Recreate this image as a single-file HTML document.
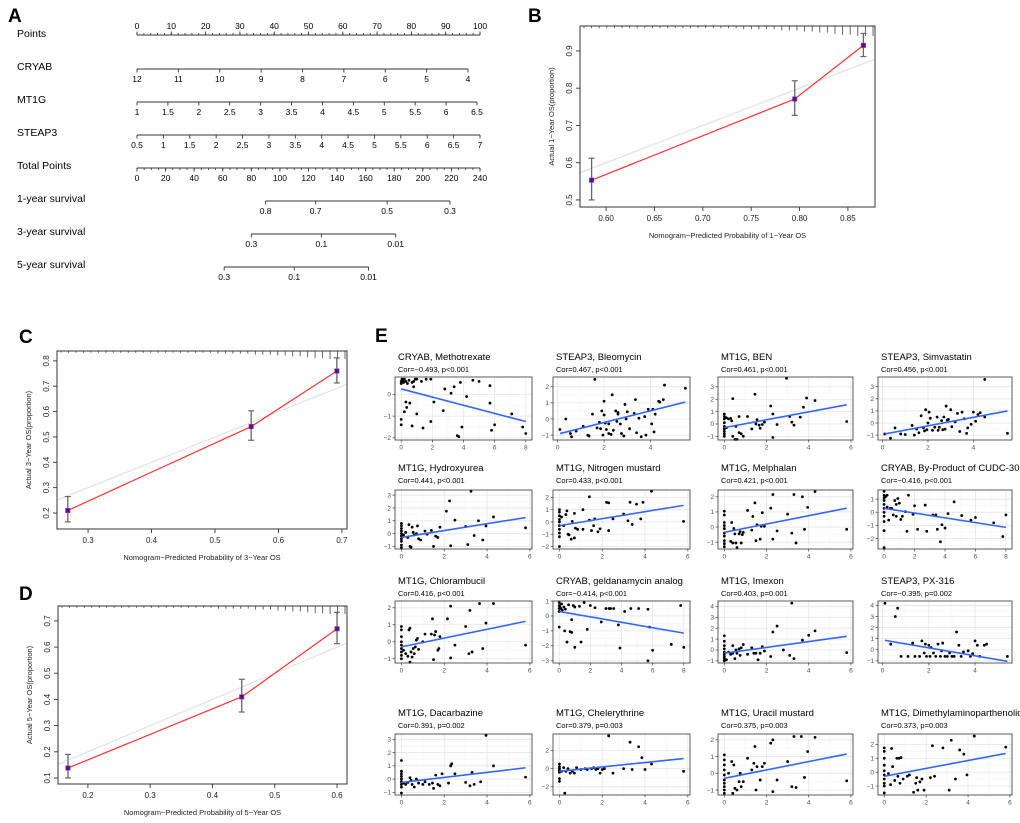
<!DOCTYPE html>
<html><head><meta charset="utf-8">
<style>
html,body{margin:0;padding:0;background:#fff;}
svg{display:block;font-family:"Liberation Sans",Arial,sans-serif;}
</style></head>
<body>
<svg id="fig" width="1020" height="823" viewBox="0 0 1020 823" xmlns="http://www.w3.org/2000/svg">
<g font-weight="bold" font-size="19" fill="#000">
<text x="8" y="22">A</text>
<text x="528" y="22">B</text>
<text x="19" y="343">C</text>
<text x="19" y="600">D</text>
<text x="375" y="342">E</text>
</g>
<g id="nomo"></g>
<g id="calib"></g>
<g id="scat"></g>
</svg>
<script>
// ---------- Nomogram data ----------
const nomoRows = ["Points","CRYAB","MT1G","STEAP3","Total Points","1-year survival","3-year survival","5-year survival"];
const pointsTicks = [0,10,20,30,40,50,60,70,80,90,100];
const cryabTicks = [12,11,10,9,8,7,6,5,4];
const mt1gTicks = [1,1.5,2,2.5,3,3.5,4,4.5,5,5.5,6,6.5];
const steap3Ticks = [0.5,1,1.5,2,2.5,3,3.5,4,4.5,5,5.5,6,6.5,7];
const totalTicks = [0,20,40,60,80,100,120,140,160,180,200,220,240];
const surv1Labels = ["0.8","0.7","0.5","0.3"];
const surv1Total = [90,125,175,219];
const surv3Labels = ["0.3","0.1","0.01"];
const surv3Total = [80,129,181];
const surv5Labels = ["0.3","0.1","0.01"];
const surv5Total = [61,110,162];

// ---------- Calibration data ----------
const calB_pred = [0.585,0.795,0.866];
const calB_obs = [0.553,0.771,0.915];
const calB_lo = [0.500,0.727,0.885];
const calB_hi = [0.612,0.820,0.947];
const calB_xticks = [0.60,0.65,0.70,0.75,0.80,0.85];
const calB_yticks = [0.5,0.6,0.7,0.8,0.9];
const calC_pred = [0.268,0.557,0.692];
const calC_obs = [0.210,0.541,0.760];
const calC_lo = [0.165,0.487,0.713];
const calC_hi = [0.265,0.603,0.812];
const calC_xticks = [0.3,0.4,0.5,0.6,0.7];
const calC_yticks = [0.2,0.3,0.4,0.5,0.6,0.7,0.8];
const calD_pred = [0.168,0.447,0.600];
const calD_obs = [0.138,0.410,0.670];
const calD_lo = [0.100,0.352,0.613];
const calD_hi = [0.190,0.477,0.733];
const calD_xticks = [0.2,0.3,0.4,0.5,0.6];
const calD_yticks = [0.1,0.2,0.3,0.4,0.5,0.6,0.7];
const rugLens = [2,2,2,2,2,2,2,2,2,2,2,2,2,2,2,2,2,2,2,2,2,3,3,3,3,3,4,4,4,5,5,6,6,7,8,8,9,9,9];

// ---------- Scatter data ----------
const scTitles = ["CRYAB, Methotrexate","STEAP3, Bleomycin","MT1G, BEN","STEAP3, Simvastatin","MT1G, Hydroxyurea","MT1G, Nitrogen mustard","MT1G, Melphalan","CRYAB, By-Product of CUDC-305","MT1G, Chlorambucil","CRYAB, geldanamycin analog","MT1G, Imexon","STEAP3, PX-316","MT1G, Dacarbazine","MT1G, Chelerythrine","MT1G, Uracil mustard","MT1G, Dimethylaminoparthenolide"];
const scCors = ["Cor=\u22120.493, p<0.001","Cor=0.467, p<0.001","Cor=0.461, p<0.001","Cor=0.456, p<0.001","Cor=0.441, p<0.001","Cor=0.433, p<0.001","Cor=0.421, p<0.001","Cor=\u22120.416, p<0.001","Cor=0.416, p<0.001","Cor=\u22120.414, p<0.001","Cor=0.403, p=0.001","Cor=\u22120.395, p=0.002","Cor=0.391, p=0.002","Cor=0.379, p=0.003","Cor=0.375, p=0.003","Cor=0.373, p=0.003"];
const scXDomain = [[-0.4,8.4],[-0.2,5.7],[-0.3,6.1],[-0.2,5.7],[-0.3,6.1],[-0.3,6.1],[-0.3,6.1],[-0.4,8.4],[-0.3,6.1],[-0.4,8.4],[-0.3,6.1],[-0.2,5.6],[-0.3,6.1],[-0.3,6.1],[-0.3,6.1],[-0.3,6.1]];
const scYDomain = [[-2.1,0.8],[-1.3,2.6],[-1.3,3.8],[-1.4,3.8],[-1.2,3.4],[-2.2,2.6],[-1.45,2.45],[-2.8,1.7],[-1.25,2.4],[-3.15,1.0],[-1.2,4.5],[-1.2,4.4],[-1.2,3.4],[-2.9,3.8],[-1.3,2.35],[-1.65,2.75]];
const scXTicks = [[0,2,4,6,8],[0,2,4],[0,2,4,6],[0,2,4],[0,2,4,6],[0,2,4,6],[0,2,4,6],[0,2,4,6,8],[0,2,4,6],[0,2,4,6,8],[0,2,4,6],[0,2,4],[0,2,4,6],[0,2,4,6],[0,2,4,6],[0,2,4,6]];
const scYTicks = [[-2,-1,0],[-1,0,1,2],[-1,0,1,2,3],[-1,0,1,2,3],[-1,0,1,2,3],[-2,-1,0,1,2],[-1,0,1,2],[-2,-1,0,1],[-1,0,1,2],[-3,-2,-1,0,1],[-1,0,1,2,3,4],[-1,0,1,2,3,4],[-1,0,1,2,3],[-2,0,2],[-1,0,1,2],[-1,0,1,2]];
const scLineX = [[0,8],[0.1,5.5],[0,5.8],[0.1,5.5],[0,5.8],[0,5.8],[0,5.8],[0,8],[0,5.8],[0,8],[0,5.8],[0.1,5.4],[0,5.8],[0,5.8],[0,5.8],[0,5.8]];
const scLineY = [[0.25,-1.25],[-0.9,1.05],[-0.3,1.55],[-0.9,1.0],[-0.3,1.25],[-0.3,1.35],[-0.35,1.25],[0.3,-1.15],[-0.3,1.2],[0.3,-1.15],[-0.3,1.25],[0.85,-1.05],[-0.25,0.85],[-0.3,1.1],[-0.3,1.15],[-0.3,1.35]];
const scPts = [
[[0,0.6],[0,0.5],[0.05,0.7],[0.1,0.65],[0.15,0.55],[0.2,0.7],[0.3,0.6],[0.4,0.5],[0.5,0.65],[0.7,0.55],[0.8,0.6],[0.9,0.7],[1,0.7],[1.3,0.6],[1.6,0.7],[1.9,0.7],[0.8,0.35],[0,-1.15],[0,-1.4],[0.2,-0.8],[0.3,-0.35],[0.35,-0.6],[0.55,-0.4],[0.7,-1.45],[1,-0.9],[1.4,-1.55],[1.9,-1.25],[2.1,-0.35],[2.7,-0.75],[2.8,0.25],[3.2,0.05],[3.4,0.35],[3.6,-1.9],[3.7,-1.95],[3.8,0.55],[3.9,-1.5],[4.2,-0.1],[4.6,0.65],[5,0.6],[5.7,0.4],[5.7,-0.4],[5.8,-1.65],[6,-1.4],[7.1,-0.9],[7.8,-1.5],[8,-1.8]],
[[0.1,-0.65],[0.35,0],[0.55,-0.9],[0.6,-1.1],[0.8,-0.75],[1.1,-0.45],[1.3,-1],[1.35,-1.05],[1.5,0.3],[1.6,2.45],[1.7,-0.55],[1.8,-0.2],[1.85,-0.6],[1.9,0.5],[1.95,-1],[2,1.1],[2,0.25],[2.05,-0.25],[2.1,-0.65],[2.2,-0.3],[2.2,-0.9],[2.3,-0.95],[2.35,1.5],[2.4,-0.7],[2.5,0.5],[2.55,-0.15],[2.6,0.3],[2.6,0.4],[2.7,-0.3],[2.75,-0.9],[2.85,-1.05],[2.9,0.9],[2.95,0],[3,0.45],[3.1,-0.6],[3.3,0.35],[3.35,1.2],[3.4,-0.85],[3.5,0.05],[3.6,-1.1],[3.75,0.15],[3.8,-1],[3.9,0.6],[4.05,-0.3],[4.1,0.6],[4.15,-0.8],[4.2,0.3],[4.35,1.1],[4.4,1.05],[4.55,1.2],[4.6,2.1],[5.5,1.9]],
[[0,0.8],[0,0.6],[0,0.4],[0,0.1],[0,-0.2],[0,-0.4],[0,-0.6],[0,-0.8],[0,-1],[0.1,-0.3],[0.1,0.5],[0.2,0.4],[0.3,0.45],[0.35,0.25],[0.4,2.05],[0.4,-1],[0.5,-1.25],[0.55,-0.2],[0.6,-1.25],[0.7,-0.7],[0.7,0.6],[0.8,-0.8],[0.9,-1],[1.1,0.6],[1.3,-0.4],[1.45,2.4],[1.5,0],[1.55,0.35],[1.65,-0.1],[1.7,-0.35],[1.8,-0.05],[1.9,0.15],[2.2,1.45],[2.3,0.8],[2.3,-1.1],[2.5,-0.05],[2.95,3.7],[3.1,0.6],[3.2,0.15],[3.3,-0.1],[3.6,0.55],[3.75,1.35],[3.9,2.1],[4.3,1.9],[5.8,0.2]],
[[0.1,-0.9],[0.35,-1.25],[0.55,-0.4],[0.8,-0.9],[1,-0.95],[1.3,-0.2],[1.4,-1],[1.5,-0.5],[1.6,-0.8],[1.7,0.6],[1.8,-0.4],[1.85,-0.65],[1.9,1.1],[1.95,-0.55],[2,0],[2.05,0.9],[2.1,0.4],[2.2,-0.6],[2.3,-0.35],[2.4,0.5],[2.45,-0.6],[2.5,-0.35],[2.6,0.2],[2.65,-0.55],[2.7,0.5],[2.75,-0.5],[2.8,1.4],[2.85,0.25],[2.9,0.3],[3,1.1],[3.05,-0.3],[3.2,0.1],[3.3,0.8],[3.4,-0.7],[3.5,0.9],[3.6,0.35],[3.7,-0.85],[3.75,-0.4],[3.9,-0.1],[4,0.9],[4.1,0.15],[4.2,0.7],[4.3,0.85],[4.5,0.5],[4.5,3.6],[5.5,-0.85]],
[[0,0.8],[0,0.6],[0,0.4],[0,0.2],[0,0],[0,-0.2],[0,-0.4],[0,-0.6],[0,-0.9],[0,-1.1],[0.1,-0.1],[0.2,0.1],[0.3,-0.3],[0.35,0.7],[0.4,-1],[0.45,-1.05],[0.5,0.5],[0.55,0.1],[0.6,-0.1],[0.7,0],[0.75,0.6],[0.8,-0.4],[0.9,-0.5],[1.1,0.2],[1.2,-0.05],[1.4,0.25],[1.5,-1],[1.6,-0.2],[1.7,-0.3],[1.8,0.5],[2.1,1.75],[2.25,2.55],[2.3,-0.95],[2.5,1.05],[3,0.55],[3.1,-0.85],[3.25,3.3],[3.4,-0.15],[3.6,1],[3.8,-0.5],[3.95,0.6],[4.3,1.3],[5.8,0.45]],
[[0,1],[0,0.8],[0,0.5],[0,0.2],[0,0],[0,-0.3],[0,-0.6],[0,-0.9],[0,-1.2],[0,-2],[0.1,0.4],[0.2,-0.3],[0.3,0.6],[0.35,0.9],[0.4,-1],[0.45,-1.05],[0.55,-1.4],[0.6,0.05],[0.7,-1.3],[0.7,0.7],[0.75,-0.5],[0.85,-0.6],[1.1,1],[1.1,-0.6],[1.4,2.05],[1.4,0.15],[1.5,-0.7],[1.6,-0.3],[1.65,0.25],[1.8,-0.8],[1.9,-0.55],[2.2,1.6],[2.3,1.55],[2.3,-0.7],[2.5,0.25],[3,0.65],[3.2,0.1],[3.3,1.6],[3.4,-0.2],[3.6,1.45],[3.8,0.25],[3.9,1.6],[4.3,2.5],[5.8,0.05]],
[[0,1.05],[0,0.8],[0,0.3],[0,0.1],[0,-0.1],[0,-0.4],[0,-0.6],[0,-0.9],[0,-1.1],[0,-1.3],[0.3,-0.95],[0.35,0.3],[0.4,-1.05],[0.45,-0.1],[0.5,-0.45],[0.55,-1.05],[0.6,-1.35],[0.7,-0.45],[0.75,-0.3],[0.8,-1.05],[0.85,-0.5],[0.9,-0.35],[1.1,1.1],[1.3,-0.2],[1.35,0.7],[1.45,1.6],[1.5,-0.9],[1.55,0.15],[1.7,-0.8],[1.75,0.05],[1.8,0.95],[1.9,0.05],[2.2,1.25],[2.3,2.15],[2.3,-0.8],[2.5,-0.25],[3,0.85],[3.2,-0.4],[3.3,2.15],[3.4,-1.05],[3.7,2],[3.8,-0.15],[3.95,1.3],[4.3,2.35],[5.8,-0.15]],
[[0,1.6],[0,1.3],[0,1.1],[0,0.9],[0,0.6],[0,0.3],[0,0],[0,-0.3],[0,-0.7],[0,-1.4],[0,-2.7],[0.1,1.2],[0.2,1.3],[0.2,0.4],[0.3,-0.6],[0.4,0.3],[0.5,0.3],[0.6,-0.2],[0.7,0.9],[0.8,0.6],[0.8,-0.3],[0.9,1.05],[1,0.7],[1.1,-0.55],[1.2,-0.3],[1.4,0.05],[1.5,-1.45],[1.6,1.3],[1.9,-0.15],[2,0.5],[2.2,-1.3],[2.7,0.55],[2.8,-1.45],[3.2,-0.2],[3.4,-0.2],[3.5,-1.3],[3.7,-2.25],[3.8,-0.95],[4,-1.2],[4.2,-0.1],[4.6,0.8],[5.1,-0.25],[5.7,-0.6],[6,-0.4],[7.2,-0.8],[7.8,-1.85],[8,-0.2]],
[[0,0.9],[0,0.7],[0,0.3],[0,0],[0,-0.2],[0,-0.4],[0,-0.6],[0,-0.8],[0,-1],[0.1,-0.5],[0.2,-0.7],[0.3,-0.85],[0.35,0.7],[0.4,-1.2],[0.4,0.8],[0.45,-0.6],[0.5,-0.9],[0.55,-0.4],[0.6,-0.7],[0.65,-0.3],[0.7,0.1],[0.75,0.2],[0.8,-0.45],[1,0],[1.1,0.45],[1.4,0.45],[1.45,1.35],[1.5,-1.05],[1.55,0.4],[1.6,0.6],[1.7,-0.5],[1.75,-0.4],[1.8,0.3],[2.15,1.35],[2.3,2.1],[2.3,-0.95],[2.5,-0.2],[3,0.9],[3.15,-0.7],[3.2,1.85],[3.3,-0.6],[3.65,2.25],[3.8,-0.4],[3.95,1.1],[4.3,2.25],[5.8,-0.2]],
[[0,0.9],[0,0.7],[0,0.5],[0,0.3],[0.05,0.6],[0.1,0.5],[0.15,0.8],[0.2,0.4],[0.3,0.6],[0.35,-1],[0.4,0.45],[0,-0.75],[0.5,-1.75],[0.6,0.75],[0.7,-1.05],[0.8,-1.1],[0.8,-0.25],[0.9,0.7],[1,0.6],[1,-2.1],[1.3,0.65],[1.4,-1.75],[1.6,0.9],[1.8,-0.9],[2,0.7],[2.3,0.55],[2.7,-0.4],[3,0.5],[3.2,0.5],[3.3,0.5],[3.5,0.5],[3.8,-0.6],[3.9,-2.15],[4.2,0.3],[4.6,0.5],[5.1,0.5],[5.7,0.45],[5.7,-3],[5.8,-0.75],[6,-2.3],[7.2,-1.9],[7.8,0.7],[8,-2.1]],
[[0,1.3],[0,0.8],[0,0.4],[0,0.1],[0,-0.2],[0,-0.4],[0,-0.6],[0,-0.8],[0,-1],[0.1,-0.9],[0.2,-0.2],[0.3,-0.4],[0.4,-0.3],[0.4,0.4],[0.5,-0.8],[0.55,0],[0.6,-0.3],[0.7,0.1],[0.75,-0.5],[0.8,0.2],[0.9,0.5],[1.1,-0.4],[1.3,0.2],[1.4,-0.3],[1.5,-0.3],[1.6,-0.9],[1.7,-0.3],[1.8,0.3],[1.9,-0.1],[2.2,-0.6],[2.3,1.65],[2.5,2.2],[2.8,0],[3.1,-0.5],[3.2,4.3],[3.3,-0.8],[3.7,0.9],[4,1.35],[4.3,1.75],[5.8,-0.25]],
[[0.1,4.2],[0.35,0.5],[0.55,3],[0.65,3.75],[0.8,-0.6],[1.1,-0.6],[1.3,0.6],[1.4,-0.6],[1.6,-0.6],[1.7,0.8],[1.8,-0.3],[1.85,0.5],[1.9,-0.6],[2,0.4],[2.05,-0.6],[2.1,0.2],[2.2,-0.3],[2.3,-0.6],[2.4,0.5],[2.5,-0.6],[2.55,-0.1],[2.6,0.6],[2.7,-0.6],[2.8,-0.6],[2.9,-0.3],[3,-0.6],[3.1,-0.6],[3.2,1.6],[3.3,0.4],[3.4,-0.6],[3.5,-0.2],[3.7,-0.1],[3.8,-0.6],[3.9,-0.35],[4,0.8],[4.1,0.4],[4.2,-0.6],[4.4,0.4],[4.5,0.5],[5.4,-0.6]],
[[0,1.4],[0,0.6],[0,0.4],[0,0.2],[0,0],[0,-0.2],[0,-0.4],[0,-0.6],[0,-1.05],[0.1,-0.3],[0.2,-0.4],[0.3,-0.25],[0.4,0.1],[0.45,-0.1],[0.5,-0.4],[0.6,-0.6],[0.7,0],[0.8,-0.3],[1,-0.4],[1.1,-0.2],[1.3,-0.4],[1.45,-0.3],[1.5,-0.7],[1.6,0.3],[1.7,-0.4],[1.8,-0.5],[1.9,0.4],[2.2,-0.3],[2.3,1],[2.35,1.15],[2.5,0.4],[3,-0.25],[3.2,-0.5],[3.3,0.5],[3.4,-0.4],[3.7,-0.2],[3.95,3.3],[4.3,1],[5.8,0.15]],
[[0,0.5],[0,0.2],[0,0],[0,-0.2],[0,-0.4],[0,-1.1],[0,-1.4],[0.1,-0.3],[0.2,0.1],[0.25,-2.7],[0.3,-0.3],[0.4,0],[0.5,-0.5],[0.6,-0.3],[0.7,-0.5],[0.8,0.1],[1,-0.1],[1.2,0],[1.3,-0.1],[1.5,0],[1.6,0.1],[1.7,-0.1],[1.8,0],[1.9,-0.5],[2,-0.1],[2.1,0],[2.3,3.6],[2.5,-0.5],[3,0],[3.3,2.9],[3.4,-0.1],[3.7,2.4],[3.85,1.2],[4,-0.1],[4.3,0.5],[5.8,-0.3]],
[[0,1.1],[0,0.8],[0,0.5],[0,0.2],[0,-0.1],[0,-0.4],[0,-0.6],[0,-0.8],[0,-1],[0,-1.2],[0.2,0],[0.35,0.7],[0.4,-1.2],[0.45,0.5],[0.5,-0.9],[0.6,-1],[0.7,-0.5],[0.75,0],[0.8,-0.8],[0.9,-0.5],[1.1,0.9],[1.3,0.2],[1.4,0.6],[1.45,1.6],[1.5,-1],[1.55,0.4],[1.7,-0.4],[1.8,0.4],[1.9,0.6],[2.2,1.8],[2.3,2],[2.3,-1.1],[2.5,-0.4],[3,0.7],[3.2,-0.8],[3.3,2.2],[3.4,-0.85],[3.65,2.2],[3.8,-0.25],[3.95,1.3],[4.3,2.15],[5.8,-0.45]],
[[0,1.75],[0,1.5],[0,1],[0,0.5],[0,0.1],[0,-0.2],[0,-0.5],[0,-0.8],[0,-1],[0,-1.5],[0.2,-0.1],[0.3,-0.9],[0.35,1.7],[0.4,0.4],[0.5,-0.6],[0.6,1],[0.65,-0.3],[0.7,1],[0.75,-0.8],[0.8,1.05],[0.9,-0.5],[1.1,-0.3],[1.2,-0.2],[1.4,-1.45],[1.5,-0.8],[1.55,-0.4],[1.6,-1.3],[1.7,-0.7],[1.8,-0.5],[1.9,-1.3],[2.2,-0.4],[2.3,1.9],[2.4,-0.3],[2.8,1.75],[3.1,-1.3],[3.2,2.3],[3.4,-0.5],[3.6,1.6],[3.8,1.3],[3.95,-0.2],[4.3,2.6],[5.8,1.8]]
];

const NS = "http://www.w3.org/2000/svg";
function mk(parent, tag, attrs, text){
  const e = document.createElementNS(NS, tag);
  for (const k in attrs) e.setAttribute(k, attrs[k]);
  if (text !== undefined) e.textContent = text;
  parent.appendChild(e);
  return e;
}
function lin(d0,d1,r0,r1){ return v => r0 + (v-d0)/(d1-d0)*(r1-r0); }

// ---------- Nomogram ----------
(function(){
  const g = document.getElementById('nomo');
  const L = 137, R = 480;
  const rowY = [35,69,102,135,168,201,234,267];
  nomoRows.forEach((r,i)=>{
    const t = mk(g,'text',{x:17,y:rowY[i]+ (i===0?2:1),'font-size':10.5,fill:'#000'},r);
    
    
  });
  function axis(y, vals, labels, scale, above, minorVals){
    const xs = vals.map(scale);
    const ln = mk(g,'line',{x1:Math.min(...xs),x2:Math.max(...xs),y1:y,y2:y,stroke:'#333','stroke-width':1});
    
    
    if (minorVals) minorVals.forEach(v=>{
      const x = scale(v);
      mk(g,'line',{x1:x,x2:x,y1:y,y2:above?y-2:y+2,stroke:'#333','stroke-width':0.8});
    });
    vals.forEach((v,i)=>{
      const x = scale(v);
      mk(g,'line',{x1:x,x2:x,y1:y,y2:above?y-3.5:y+3.5,stroke:'#333','stroke-width':0.9});
      const t = mk(g,'text',{x:x,y:above?y-6:y+13,'font-size':8.5,'text-anchor':'middle',fill:'#000'},labels[i]);
      
      
    });
  }
  const pts = lin(0,100,L,R);
  const pMinor = []; for (let v=0; v<=100; v+=2) pMinor.push(v);
  axis(rowY[0], pointsTicks, pointsTicks.map(String), pts, true, pMinor);
  axis(rowY[1], cryabTicks, cryabTicks.map(String), lin(12,4,L,468), false);
  axis(rowY[2], mt1gTicks, mt1gTicks.map(String), lin(1,6.5,L,477), false);
  axis(rowY[3], steap3Ticks, steap3Ticks.map(String), lin(0.5,7,L,R), false);
  const tot = lin(0,240,L,R);
  const tMinor = []; for (let v=0; v<=240; v+=5) tMinor.push(v);
  axis(rowY[4], totalTicks, totalTicks.map(String), tot, false, tMinor);
  axis(rowY[5], surv1Total, surv1Labels, tot, false);
  axis(rowY[6], surv3Total, surv3Labels, tot, false);
  axis(rowY[7], surv5Total, surv5Labels, tot, false);
})();

// ---------- Calibration plots ----------
function calPlot(cfg){
  const g = mk(document.getElementById('calib'),'g',{});
  
  
  const sx = lin(cfg.xd[0],cfg.xd[1],cfg.box[0],cfg.box[2]);
  const sy = lin(cfg.yd[0],cfg.yd[1],cfg.box[3],cfg.box[1]);
  const [x0,y0,x1,y1] = cfg.box;
  // ideal line
  const lo = Math.max(cfg.xd[0],cfg.yd[0]), hi = Math.min(cfg.xd[1],cfg.yd[1]);
  mk(g,'line',{x1:sx(lo),y1:sy(lo),x2:sx(hi),y2:sy(hi),stroke:'#dcdcdc','stroke-width':1});
  // rug
  const n = rugLens.length;
  rugLens.forEach((len,i)=>{
    const x = x0 + 4 + i*(x1-x0-6)/(n-1);
    mk(g,'line',{x1:x,x2:x,y1:y0,y2:y0+len*cfg.rugK,stroke:'#555','stroke-width':0.9});
  });
  // red line
  const pl = cfg.pred.map((p,i)=>sx(p)+','+sy(cfg.obs[i])).join(' ');
  const poly = mk(g,'polyline',{points:pl,fill:'none',stroke:'#ff3333','stroke-width':1.2});
  
  
  cfg.pred.forEach((p,i)=>{
    const x = sx(p);
    mk(g,'line',{x1:x,x2:x,y1:sy(cfg.lo[i]),y2:sy(cfg.hi[i]),stroke:'#666','stroke-width':1.3});
    mk(g,'line',{x1:x-3,x2:x+3,y1:sy(cfg.lo[i]),y2:sy(cfg.lo[i]),stroke:'#666','stroke-width':1.2});
    mk(g,'line',{x1:x-3,x2:x+3,y1:sy(cfg.hi[i]),y2:sy(cfg.hi[i]),stroke:'#666','stroke-width':1.2});
    const pt = mk(g,'rect',{x:x-2.2,y:sy(cfg.obs[i])-2.2,width:4.4,height:4.4,fill:'#3a1ea0',stroke:'#c0208a','stroke-width':0.6});
    
    
  });
  mk(g,'rect',{x:x0,y:y0,width:x1-x0,height:y1-y0,fill:'none',stroke:'#333','stroke-width':1});
  cfg.xt.forEach(v=>{
    const x = sx(v);
    mk(g,'line',{x1:x,x2:x,y1:y1,y2:y1+4,stroke:'#333','stroke-width':0.9});
    mk(g,'text',{x:x,y:y1+14,'font-size':8,'text-anchor':'middle',fill:'#222'},v.toFixed(cfg.xdec));
  });
  cfg.yt.forEach(v=>{
    const y = sy(v);
    mk(g,'line',{x1:x0,x2:x0-4,y1:y,y2:y,stroke:'#333','stroke-width':0.9});
    mk(g,'text',{x:x0-8,y:y,'font-size':8,'text-anchor':'middle',fill:'#222',transform:`rotate(-90 ${x0-8} ${y})`},v.toFixed(1));
  });
  const xl = mk(g,'text',{x:(x0+x1)/2,y:y1+31,'font-size':7.5,'text-anchor':'middle',fill:'#222'},cfg.xlab);
  
  
  const yx = x0-26, yy=(y0+y1)/2;
  const yl = mk(g,'text',{x:yx,y:yy,'font-size':7.5,'text-anchor':'middle',fill:'#222',transform:`rotate(-90 ${yx} ${yy})`},cfg.ylab);
  
  
}
calPlot({name:'calibration-1-year',box:[580,26,875,207],xd:[0.573,0.878],yd:[0.481,0.967],pred:calB_pred,obs:calB_obs,lo:calB_lo,hi:calB_hi,xt:calB_xticks,yt:calB_yticks,xdec:2,rugK:1.1,xlab:'Nomogram\u2212Predicted Probability of 1\u2212Year OS',ylab:'Actual 1\u2212Year OS(proportion)'});
calPlot({name:'calibration-3-year',box:[57,351,347,529],xd:[0.251,0.708],yd:[0.137,0.839],pred:calC_pred,obs:calC_obs,lo:calC_lo,hi:calC_hi,xt:calC_xticks,yt:calC_yticks,xdec:1,rugK:0.9,xlab:'Nomogram\u2212Predicted Probability of 3\u2212Year OS',ylab:'Actual 3\u2212Year OS(proportion)'});
calPlot({name:'calibration-5-year',box:[58,606,347,784],xd:[0.152,0.616],yd:[0.077,0.757],pred:calD_pred,obs:calD_obs,lo:calD_lo,hi:calD_hi,xt:calD_xticks,yt:calD_yticks,xdec:1,rugK:0.9,xlab:'Nomogram\u2212Predicted Probability of 5\u2212Year OS',ylab:'Actual 5\u2212Year OS(proportion)'});

// ---------- Scatter grid ----------
(function(){
  const root = document.getElementById('scat');
  const colX = [[395,532],[553,690],[718,853],[878,1012]];
  const rowY = [[357,377,440],[468,490,549],[581,601,663],[713,734,795]];
  scTitles.forEach((title,k)=>{
    const c = k%4, r = Math.floor(k/4);
    const [bx0,bx1] = colX[c];
    const [ty,by0,by1] = rowY[r];
    const g = mk(root,'g',{});
    
    
    const sx = lin(scXDomain[k][0],scXDomain[k][1],bx0,bx1);
    const sy = lin(scYDomain[k][0],scYDomain[k][1],by1,by0);
    mk(g,'rect',{x:bx0,y:by0,width:bx1-bx0,height:by1-by0,fill:'#fff'});
    const xt = scXTicks[k], yt = scYTicks[k];
    // minor grid
    for (let i=0;i<xt.length-1;i++){ const x=sx((xt[i]+xt[i+1])/2); mk(g,'line',{x1:x,x2:x,y1:by0,y2:by1,stroke:'#f4f4f4','stroke-width':0.6}); }
    for (let i=0;i<yt.length-1;i++){ const y=sy((yt[i]+yt[i+1])/2); mk(g,'line',{x1:bx0,x2:bx1,y1:y,y2:y,stroke:'#f4f4f4','stroke-width':0.6}); }
    xt.forEach(v=>{
      const x = sx(v);
      mk(g,'line',{x1:x,x2:x,y1:by0,y2:by1,stroke:'#e6e6e6','stroke-width':0.8});
      mk(g,'line',{x1:x,x2:x,y1:by1,y2:by1+2.5,stroke:'#444','stroke-width':0.7});
      mk(g,'text',{x:x,y:by1+9.5,'font-size':6.5,'text-anchor':'middle',fill:'#4d4d4d'},v);
    });
    yt.forEach(v=>{
      const y = sy(v);
      mk(g,'line',{x1:bx0,x2:bx1,y1:y,y2:y,stroke:'#e6e6e6','stroke-width':0.8});
      mk(g,'line',{x1:bx0-2.5,x2:bx0,y1:y,y2:y,stroke:'#444','stroke-width':0.7});
      mk(g,'text',{x:bx0-4,y:y+2.3,'font-size':6.5,'text-anchor':'end',fill:'#4d4d4d'},v<0?'\u2212'+(-v):v);
    });
    scPts[k].forEach(p=>{
      const d = mk(g,'circle',{cx:sx(p[0]),cy:sy(p[1]),r:1.4,fill:'#000'});
      
      
    });
    const fl = mk(g,'line',{x1:sx(scLineX[k][0]),y1:sy(scLineY[k][0]),x2:sx(scLineX[k][1]),y2:sy(scLineY[k][1]),stroke:'#3366ff','stroke-width':1.6});
    
    
    mk(g,'rect',{x:bx0,y:by0,width:bx1-bx0,height:by1-by0,fill:'none',stroke:'#333','stroke-width':0.8});
    const t = mk(g,'text',{x:bx0+3,y:ty+3,'font-size':9.5,fill:'#000'},title);
    
    
    const cr = mk(g,'text',{x:bx0+3,y:ty+15,'font-size':7.5,fill:'#000'},scCors[k]);
    
    
  });
})();
</script>
</body></html>
